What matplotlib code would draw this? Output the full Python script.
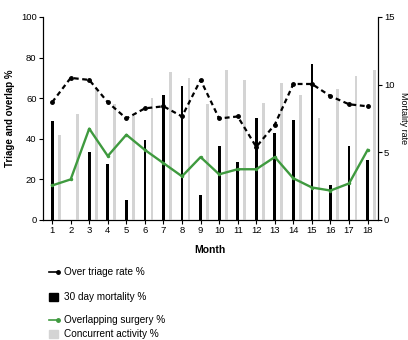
import matplotlib
matplotlib.use('Agg')
import matplotlib.pyplot as plt
from matplotlib.lines import Line2D
from matplotlib.patches import Rectangle
import numpy as np

plt.rcParams['font.family'] = ['Liberation Sans', 'DejaVu Sans']

# Data
months = list(range(1, 19))
over_triage = [58, 70, 69, 58, 50, 55, 56, 51, 69, 50, 51, 36, 47, 67, 67, 61, 57, 56]
overlap_surgery = [17, 20, 45, 31.5, 42, 34.5, 28, 21.5, 31, 22.5, 25, 25, 31, 20.5, 16, 14.5, 18, 34.5]
concurrent = [42, 52, 65, 57, 51, 60, 73, 70, 57, 74, 69, 57.5, 67.5, 61.5, 50, 64.5, 71, 74]
mortality = [7.3, 0, 5.0, 4.1, 1.5, 5.9, 9.2, 9.9, 1.85, 5.5, 4.3, 7.5, 6.4, 7.4, 11.5, 2.6, 5.5, 4.4]

green = '#3f9a3f'
grey = '#d4d4d4'

fig = plt.figure(figsize=(4.08, 3.4), dpi=100)
ax = fig.add_axes([0.105, 0.353, 0.821, 0.597])
ax2 = ax.twinx()

x = np.array(months)
w = 0.15

ax.bar(x + 0.38, concurrent, width=w, color=grey, zorder=1)
ax2.bar(x, mortality, width=w, color='black', zorder=2)

ax.plot(x, over_triage, color='black', lw=1.6, ls=(0, (2.2, 1.6)),
        marker='o', ms=2.5, zorder=5)
ax.plot(x, overlap_surgery, color=green, lw=1.7, marker='o', ms=1.5, zorder=5)

ax.set_zorder(ax2.get_zorder() + 1)
ax.patch.set_visible(False)

ax.set_xlim(0.5, 18.55)
ax.set_ylim(0, 100)
ax2.set_ylim(0, 15)
ax.set_xticks(months)
ax.set_yticks([0, 20, 40, 60, 80, 100])
ax2.set_yticks([0, 5, 10, 15])

for a in (ax, ax2):
    a.spines['top'].set_visible(False)
    for s in a.spines.values():
        s.set_linewidth(0.8)
    a.tick_params(labelsize=6.8, width=0.8, length=3, pad=1.5)

ax.set_xlabel('Month', fontsize=7.5, fontweight='bold', labelpad=7)
ax.set_ylabel('Triage and overlap %', fontsize=7, fontweight='bold', labelpad=4)
ax2.set_ylabel('Mortality rate', fontsize=6.5, rotation=270, labelpad=10)

# legend below the axes
W, H = 408, 340
items = [
    (272, 'line', 'black', 'Over triage rate %'),
    (297, 'box', 'black', '30 day mortality %'),
    (320, 'line', green, 'Overlapping surgery %'),
    (334, 'box', grey, 'Concurrent activity %'),
]
for yp, kind, col, label in items:
    yf = 1 - yp / H
    if kind == 'line':
        fig.add_artist(Line2D([49 / W, 58 / W], [yf, yf], color=col, lw=1.2,
                              marker='o', markevery=[1], ms=2.5,
                              transform=fig.transFigure))
    else:
        fig.add_artist(Rectangle((49 / W, yf - 4 / H), 9 / W, 8 / H, color=col,
                                 transform=fig.transFigure))
    fig.text(64 / W, yf, label, fontsize=7.2, va='center', ha='left')

fig.savefig('out.png', dpi=100)
